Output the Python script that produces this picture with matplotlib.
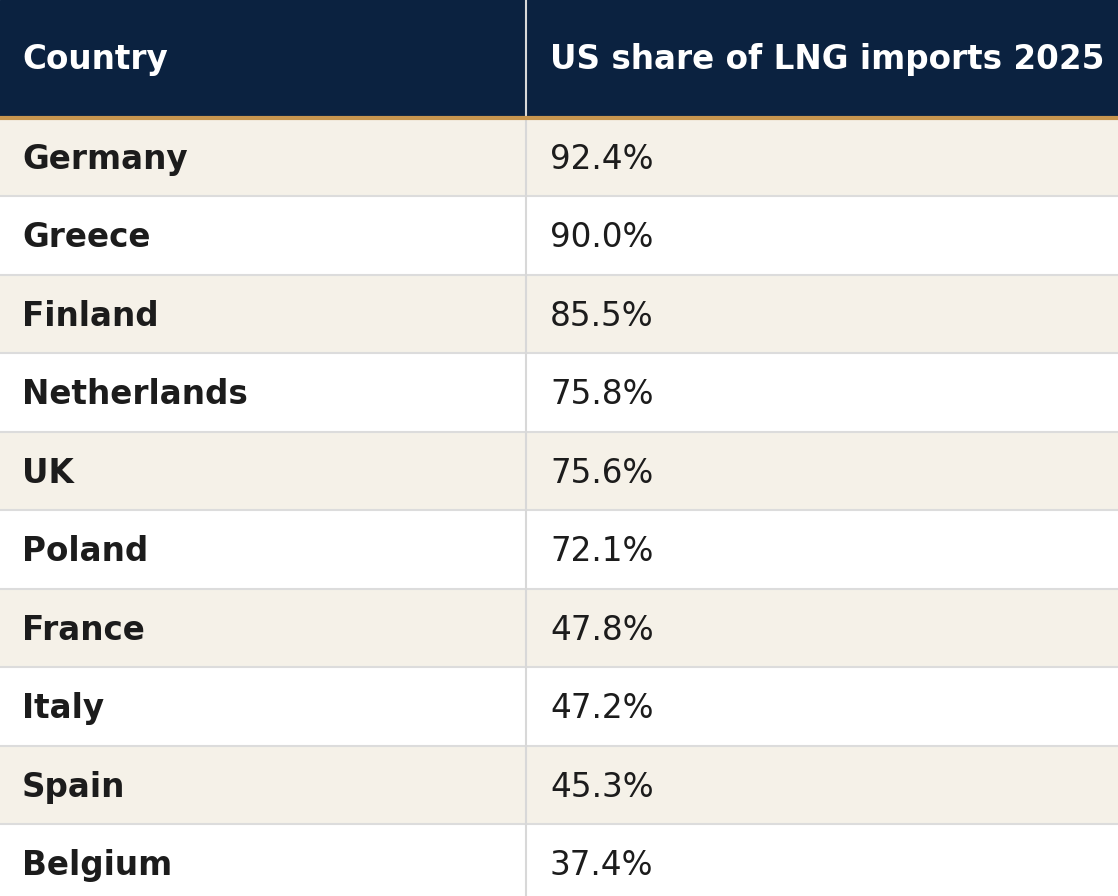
import matplotlib
matplotlib.use("Agg")
import matplotlib.pyplot as plt
from matplotlib.patches import Rectangle

countries = ["Germany", "Greece", "Finland", "Netherlands", "UK", "Poland",
             "France", "Italy", "Spain", "Belgium"]
shares = [92.4, 90.0, 85.5, 75.8, 75.6, 72.1, 47.8, 47.2, 45.3, 37.4]
headers = ["Country", "US share of LNG imports 2025"]

W, H = 1118, 896
header_h = 118
row_h = 78.5
col_x = 526

fig = plt.figure(figsize=(W / 100, H / 100), dpi=100)
ax = fig.add_axes([0, 0, 1, 1])
ax.set_xlim(0, W)
ax.set_ylim(H, 0)
ax.axis("off")

ax.add_patch(Rectangle((0, 0), W, header_h, color="#0b2240"))
ax.text(22, header_h / 2 + 1, headers[0], color="white", fontsize=23.5, fontweight="bold", va="center")
ax.text(550, header_h / 2 + 1, headers[1], color="white", fontsize=23.5, fontweight="bold", va="center")

for i, (country, share) in enumerate(zip(countries, shares)):
    top = header_h + i * row_h
    bg = "#f5f1e8" if i % 2 == 0 else "white"
    ax.add_patch(Rectangle((0, top), W, row_h, color=bg))
    ax.plot([0, W], [top + row_h, top + row_h], color="#dcdcdc", lw=1.5)
    mid = top + row_h / 2 + 2
    ax.text(22, mid, country, color="#1c1c1c", fontsize=23.5, fontweight="bold", va="center")
    ax.text(550, mid, f"{share:.1f}%", color="#1c1c1c", fontsize=23.5, va="center")

ax.plot([col_x, col_x], [0, H], color="#d8d8d8", lw=1.5)
ax.plot([0, W], [header_h, header_h], color="#c8964f", lw=3)

fig.savefig("out.png", dpi=100)
